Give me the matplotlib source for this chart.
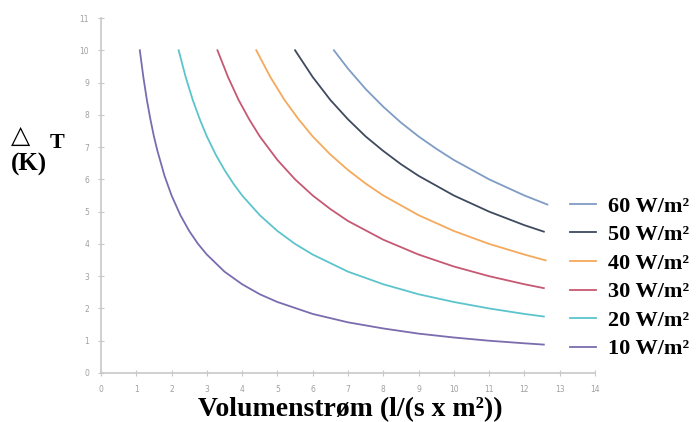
import matplotlib
matplotlib.use("Agg")
import matplotlib.pyplot as plt

# === Data ===
x_10 = [1.1, 1.2, 1.3, 1.4, 1.5, 1.6, 1.8, 2.0, 2.25, 2.5, 2.75, 3, 3.5, 4, 4.5, 5,
        6, 7, 8, 9, 10, 11, 12, 12.55]
y_10 = [10, 9.17, 8.46, 7.86, 7.33, 6.88, 6.11, 5.5, 4.89, 4.4, 4.0, 3.67, 3.14, 2.75, 2.44, 2.2,
        1.83, 1.57, 1.38, 1.22, 1.1, 1.0, 0.92, 0.88]

x_20 = [2.2, 2.4, 2.6, 2.8, 3.0, 3.25, 3.5, 3.75, 4, 4.5, 5, 5.5, 6, 7, 8, 9, 10, 11, 12, 12.55]
y_20 = [10, 9.17, 8.46, 7.86, 7.33, 6.77, 6.29, 5.87, 5.5, 4.89, 4.4, 4.0, 3.67, 3.14, 2.75, 2.44,
        2.2, 2.0, 1.83, 1.75]

x_30 = [3.3, 3.6, 3.9, 4.2, 4.5, 5, 5.5, 6, 6.5, 7, 8, 9, 10, 11, 12, 12.55]
y_30 = [10, 9.17, 8.46, 7.86, 7.33, 6.6, 6.0, 5.5, 5.08, 4.71, 4.13, 3.67, 3.3, 3.0, 2.75, 2.63]

x_40 = [4.4, 4.8, 5.2, 5.6, 6, 6.5, 7, 7.5, 8, 9, 10, 11, 12, 12.6]
y_40 = [10, 9.17, 8.46, 7.86, 7.33, 6.77, 6.29, 5.87, 5.5, 4.89, 4.4, 4.0, 3.67, 3.49]

x_50 = [5.5, 6, 6.5, 7, 7.5, 8, 8.5, 9, 10, 11, 12, 12.55]
y_50 = [10, 9.17, 8.46, 7.86, 7.33, 6.88, 6.47, 6.11, 5.5, 5.0, 4.58, 4.38]

x_60 = [6.6, 7, 7.5, 8, 8.5, 9, 9.5, 10, 11, 12, 12.65]
y_60 = [10, 9.43, 8.8, 8.25, 7.76, 7.33, 6.95, 6.6, 6.0, 5.5, 5.22]

labels = ["60 W/m²", "50 W/m²", "40 W/m²", "30 W/m²", "20 W/m²", "10 W/m²"]
colors = ["#7f9cc4", "#3e4a5e", "#f4a95c", "#c65873", "#5cc4cc", "#7b6cae"]
series = [(x_60, y_60), (x_50, y_50), (x_40, y_40), (x_30, y_30), (x_20, y_20), (x_10, y_10)]

x_ticks = list(range(0, 15))
y_ticks = list(range(0, 12))

# === Figure ===
fig = plt.figure(figsize=(6.98, 4.22), dpi=100)
ax = fig.add_axes([101 / 698, 49 / 422, 494 / 698, 355 / 422])

handles = []
for (xs, ys), col, lab in zip(series, colors, labels):
    h, = ax.plot(xs, ys, color=col, lw=1.3, label=lab)
    handles.append(h)

ax.set_xlim(0, 14)
ax.set_ylim(0, 11)
ax.set_xticks(x_ticks)
ax.set_yticks(y_ticks)
ax.tick_params(axis="both", direction="inout", length=5, width=0.8, color="#c8c8c8",
               labelsize=5.5, labelcolor="#a0a0a0", pad=6)
for s in ["top", "right"]:
    ax.spines[s].set_visible(False)
for s in ["left", "bottom"]:
    ax.spines[s].set_color("#c8c8c8")
    ax.spines[s].set_linewidth(1.2)

serif = ["Liberation Serif", "DejaVu Serif"]

leg = fig.legend(handles=handles, loc="upper left", bbox_to_anchor=(559 / 698, 1 - 185 / 422),
                 frameon=False, handlelength=1.15, handletextpad=0.55, labelspacing=0.36,
                 borderpad=0, prop={"family": serif, "weight": "bold", "size": 16})

fig.text(350 / 698, 1 - 410 / 422, "Volumenstrøm (l/(s x m²))", ha="center", va="center",
         fontsize=20, fontweight="bold", family=serif)
fig.text(11 / 698, 1 - 143 / 422, "△", ha="left", va="baseline",
         fontsize=18, fontweight="bold", family=["DejaVu Sans"])
fig.text(50 / 698, 1 - 148 / 422, "T", ha="left", va="baseline",
         fontsize=16, fontweight="bold", family=serif)
fig.text(11 / 698, 1 - 164 / 422, "(K)", ha="left", va="center",
         fontsize=18, fontweight="bold", family=serif)

fig.savefig("out.png", dpi=100)
